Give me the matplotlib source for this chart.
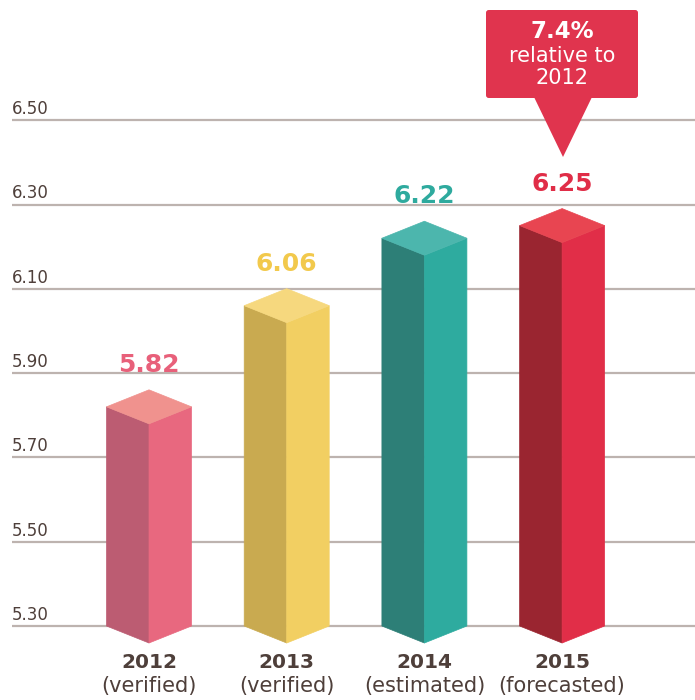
import matplotlib
matplotlib.use("Agg")
import matplotlib.pyplot as plt
from matplotlib.patches import Polygon, FancyBboxPatch

plt.rcParams['font.family'] = ['DejaVu Sans']

# ---- data ----
years = ["2012", "2013", "2014", "2015"]
statuses = ["(verified)", "(verified)", "(estimated)", "(forecasted)"]
values = [5.82, 6.06, 6.22, 6.25]
yticks = [5.30, 5.50, 5.70, 5.90, 6.10, 6.30, 6.50]
callout_lines = ["7.4%", "relative to", "2012"]

left_cols = ["#BC5C72", "#C9AA50", "#2D7F77", "#9A2530"]
right_cols = ["#E8687F", "#F2CF62", "#2EAB9F", "#E12E48"]
top_cols = ["#F0928E", "#F6D87E", "#4CB6AD", "#E84551"]
label_cols = ["#E8607A", "#F2C94C", "#2EAA9E", "#E02D47"]
text_col = "#4E3F3A"
grid_col = "#BDB3AF"
callout_col = "#E0344E"

W, H = 695, 700
fig = plt.figure(figsize=(W / 100, H / 100), dpi=100)
ax_left_px = 12
ax = fig.add_axes([ax_left_px / W, 0, 1 - ax_left_px / W, 1])

# pixel mapping helpers (y: 5.30 at 626px from top, 0.2 per 84.3px)
ppu_y = 421.5
base = 5.30
y_top = base + 626 / ppu_y
y_bot = base - (H - 626) / ppu_y
ppu_x = 137.7
x0 = 149
x_lo = (ax_left_px - x0) / ppu_x
x_hi = (W - x0) / ppu_x
ax.set_xlim(x_lo, x_hi)
ax.set_ylim(y_bot, y_top)
ax.axis("off")

d = 17 / ppu_y      # isometric vertical offset
w = 42.5 / ppu_x    # half width

for t in yticks:
    ax.plot([x_lo, x_hi], [t, t], color=grid_col, lw=1.6, zorder=1,
            solid_capstyle="butt")
    ax.text(x_lo, t + 2 / ppu_y, f"{t:.2f}", ha="left", va="bottom",
            fontsize=12, color=text_col, zorder=2)

for i, v in enumerate(values):
    c = i
    lf = Polygon([(c - w, v), (c, v - d), (c, base - d), (c - w, base)],
                 closed=True, facecolor=left_cols[i], edgecolor=left_cols[i],
                 lw=0.5, zorder=3)
    rf = Polygon([(c, v - d), (c + w, v), (c + w, base), (c, base - d)],
                 closed=True, facecolor=right_cols[i], edgecolor=right_cols[i],
                 lw=0.5, zorder=3)
    tp = Polygon([(c - w, v), (c, v + d), (c + w, v), (c, v - d)],
                 closed=True, facecolor=top_cols[i], edgecolor=top_cols[i],
                 lw=0.5, zorder=4)
    for p in (lf, rf, tp):
        ax.add_patch(p)
    ax.text(c, v + 42 / ppu_y, f"{v:.2f}", ha="center", va="center",
            fontsize=18, fontweight="bold", color=label_cols[i], zorder=5)
    ax.text(c, base - 36 / ppu_y, years[i], ha="center", va="center",
            fontsize=14.5, fontweight="bold", color=text_col)
    ax.text(c, base - 60 / ppu_y, statuses[i], ha="center", va="center",
            fontsize=15, color=text_col)

# callout box (pixel geometry converted to data)
def px2d(px, py):
    return ((px - x0) / ppu_x, base + (626 - py) / ppu_y)

bx0, by0 = px2d(486, 98)
bx1, by1 = px2d(638, 10)
box = FancyBboxPatch((bx0, by0), bx1 - bx0, by1 - by0,
                     boxstyle="round,pad=0,rounding_size=0.02",
                     mutation_aspect=(ppu_x / ppu_y),
                     facecolor=callout_col, edgecolor="none", zorder=6)
ax.add_patch(box)
tri = Polygon([px2d(534, 97), px2d(592, 97), px2d(563, 157)], closed=True,
              facecolor=callout_col, edgecolor="none", zorder=6)
ax.add_patch(tri)
cx = (bx0 + bx1) / 2
for j, (s, py) in enumerate(zip(callout_lines, [31, 56, 78])):
    ax.text(cx, px2d(0, py)[1], s, ha="center", va="center",
            fontsize=16.5 if j == 0 else 15,
            fontweight="bold" if j == 0 else "normal",
            color="white", zorder=7)

fig.savefig("out.png", dpi=100)
